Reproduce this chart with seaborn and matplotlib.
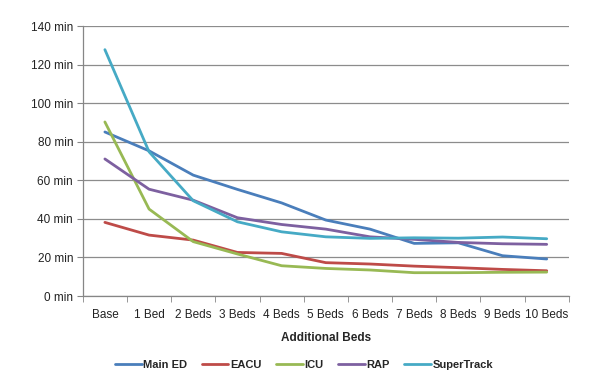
import pandas as pd
import numpy as np
import matplotlib
matplotlib.use("Agg")
import matplotlib.pyplot as plt
import seaborn as sns

# categories on the x axis
beds = ['Base', '1 Bed', '2 Beds', '3 Beds', '4 Beds', '5 Beds',
        '6 Beds', '7 Beds', '8 Beds', '9 Beds', '10 Beds']

# wait times (minutes)
main_ed = [85.1, 75.3, 62.7, 55.3, 48.3, 39.4, 34.7, 27.3, 27.6, 20.9, 19.2]
eacu = [38.2, 31.6, 29.0, 22.6, 22.1, 17.3, 16.6, 15.5, 14.7, 13.8, 13.1]
icu = [90.3, 45.1, 28.2, 21.8, 15.7, 14.3, 13.5, 12.1, 12.1, 12.3, 12.4]
rap = [71.1, 55.4, 49.7, 40.6, 37.1, 34.7, 30.7, 29.4, 27.8, 27.1, 26.8]
supertrack = [127.8, 74.8, 49.4, 38.5, 33.3, 30.7, 29.9, 30.2, 30.0, 30.6, 29.7]

series = {'Main ED': main_ed, 'EACU': eacu, 'ICU': icu, 'RAP': rap, 'SuperTrack': supertrack}
colors = ['#4A7EBB', '#BE4B48', '#98B954', '#7D60A0', '#46AAC5']
y_ticks = [0, 20, 40, 60, 80, 100, 120, 140]


def main():
    rows = []
    for name, vals in series.items():
        for i, v in enumerate(vals):
            rows.append({'pos': i, 'Beds': beds[i], 'Unit': name, 'Minutes': v})
    df = pd.DataFrame(rows)

    sns.set_style('white')
    plt.rcParams['font.family'] = ['Liberation Sans', 'DejaVu Sans']

    fig = plt.figure(figsize=(6, 3.9), dpi=100)
    ax = fig.add_axes([0.138, 0.241, 0.81, 0.692])

    sns.lineplot(data=df, x='pos', y='Minutes', hue='Unit', palette=colors,
                 linewidth=2.0, ax=ax, legend=True)

    ax.set_xlim(-0.5, len(beds) - 0.5)
    ax.set_ylim(0, 140)
    ax.set_yticks(y_ticks)
    ax.set_yticklabels([f'{t} min' for t in y_ticks], fontsize=8.5, color='#222222')
    ax.set_xticks(np.arange(len(beds)))
    ax.set_xticklabels(beds, fontsize=8.5, color='#222222')
    ax.set_xticks(np.arange(len(beds) + 1) - 0.5, minor=True)
    ax.tick_params(axis='x', which='major', length=0, pad=9)
    ax.tick_params(axis='x', which='minor', length=4, color='#868686', direction='out', bottom=True)
    ax.tick_params(axis='y', length=4, color='#868686', direction='out', left=True, pad=3)

    ax.grid(axis='y', color='#8c8c8c', linewidth=0.9)
    ax.set_axisbelow(True)
    for side in ['top', 'right']:
        ax.spines[side].set_visible(False)
    for side in ['left', 'bottom']:
        ax.spines[side].set_color('#868686')
        ax.spines[side].set_linewidth(0.9)

    ax.set_xlabel('Additional Beds', fontsize=8.5, fontweight='bold', labelpad=8)
    ax.set_ylabel('')

    handles, labels = ax.get_legend_handles_labels()
    leg = ax.legend(handles, labels, loc='upper center', bbox_to_anchor=(0.455, -0.20),
                    ncol=5, frameon=False, handlelength=2.4, handletextpad=0.15,
                    columnspacing=1.3, prop={'size': 8, 'weight': 'bold'})
    for line in leg.get_lines():
        line.set_linewidth(2.0)

    fig.savefig('out.png', dpi=100)


if __name__ == "__main__":
    main()
